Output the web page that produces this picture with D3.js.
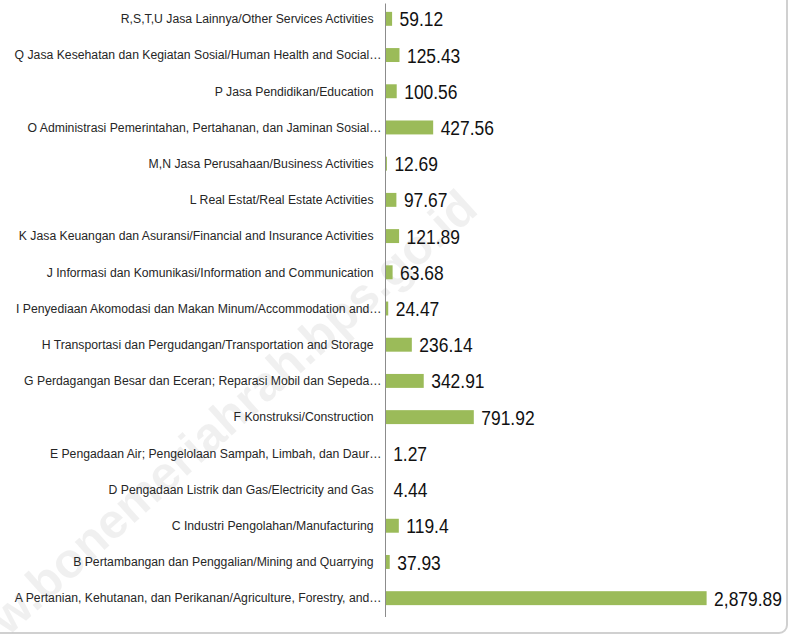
<!DOCTYPE html>
<html>
<head>
<meta charset="utf-8">
<script src="https://cdn.jsdelivr.net/npm/d3@7"></script>
<style>
  html, body { margin: 0; padding: 0; background: #fff; }
  svg { display: block; }
</style>
</head>
<body>
<svg id="chart" width="790" height="635"></svg>
<script>
// ---- data (top to bottom) ----
const categories = [
  "R,S,T,U Jasa Lainnya/Other Services Activities",
  "Q Jasa Kesehatan dan Kegiatan Sosial/Human Health and Social…",
  "P Jasa Pendidikan/Education",
  "O Administrasi Pemerintahan, Pertahanan, dan Jaminan Sosial…",
  "M,N Jasa Perusahaan/Business Activities",
  "L Real Estat/Real Estate Activities",
  "K Jasa Keuangan dan Asuransi/Financial and Insurance Activities",
  "J Informasi dan Komunikasi/Information and Communication",
  "I Penyediaan Akomodasi dan Makan Minum/Accommodation and…",
  "H Transportasi dan Pergudangan/Transportation and Storage",
  "G Perdagangan Besar dan Eceran; Reparasi Mobil dan Sepeda…",
  "F Konstruksi/Construction",
  "E Pengadaan Air; Pengelolaan Sampah, Limbah, dan Daur…",
  "D Pengadaan Listrik dan Gas/Electricity and Gas",
  "C Industri Pengolahan/Manufacturing",
  "B Pertambangan dan Penggalian/Mining and Quarrying",
  "A Pertanian, Kehutanan, dan Perikanan/Agriculture, Forestry, and…"
];
const values = [
  59.12, 125.43, 100.56, 427.56, 12.69, 97.67, 121.89, 63.68,
  24.47, 236.14, 342.91, 791.92, 1.27, 4.44, 119.4, 37.93, 2879.89
];
const watermark = "www.bonemeriahrah.bps.go.id";

// ---- layout ----
const svg = d3.select("#chart");
const axisX = 385.5;
const labelSqueeze = 0.92;
const valueSqueeze = 0.83;
const fontFam = "'Liberation Sans', Arial, sans-serif";

const x = d3.scaleLinear().domain([0, 3000]).range([axisX, axisX + 334.5]);
const y = d3.scaleBand().domain(categories).range([1, 616]).paddingInner(0.615).paddingOuter(0.3);

// chart border (partially visible)
svg.append("rect")
  .attr("x", -12).attr("y", -12)
  .attr("width", 799).attr("height", 645)
  .attr("rx", 8).attr("ry", 8)
  .attr("fill", "none")
  .attr("stroke", "#d0d0d0")
  .attr("stroke-width", 2);

// watermark
svg.append("text")
  .attr("transform", "translate(480,212) rotate(-42)")
  .attr("text-anchor", "end")
  .attr("font-family", fontFam)
  .attr("font-weight", "bold")
  .attr("font-size", 49)
  .attr("fill", "#000")
  .attr("fill-opacity", 0.06)
  .text(watermark);

// bars
svg.append("g").selectAll("rect")
  .data(values)
  .join("rect")
  .attr("x", x(0))
  .attr("y", (d, i) => y(categories[i]))
  .attr("width", d => x(d) - x(0))
  .attr("height", y.bandwidth())
  .attr("fill", "#9BBB59");

// category axis
const yAxis = d3.axisLeft(y).tickSize(0).tickPadding(0);
const ag = svg.append("g")
  .attr("transform", `translate(${axisX},0)`)
  .call(yAxis);
ag.select(".domain").attr("stroke", "#8c8c8c").attr("stroke-width", 1)
  .attr("d", "M0,3.5V617");
ag.selectAll(".tick text")
  .attr("x", d => (d.endsWith("…") ? -4 : -12) / labelSqueeze)
  .attr("transform", `scale(${labelSqueeze},1)`)
  .attr("font-family", fontFam)
  .attr("font-size", 13.3)
  .attr("fill", "#262626");

// value labels
const fmt = d3.format(",");
svg.append("g").selectAll("text")
  .data(values)
  .join("text")
  .attr("transform", (d, i) =>
    `translate(${x(d) + 7.5},${y(categories[i]) + y.bandwidth() / 2}) scale(${valueSqueeze},1)`)
  .attr("dy", "0.36em")
  .attr("font-family", fontFam)
  .attr("font-size", 21)
  .attr("fill", "#111")
  .text(d => fmt(d));
</script>
</body>
</html>
